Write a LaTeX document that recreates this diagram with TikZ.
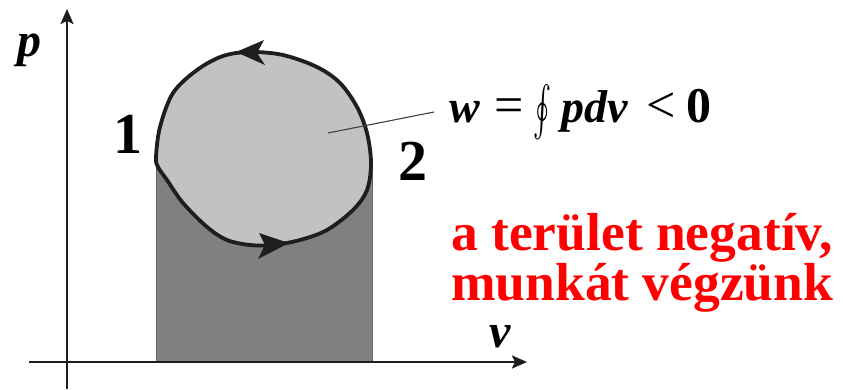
\documentclass[tikz,border=0pt]{standalone}
\usepackage{graphicx}
\usepackage{fontspec}
\setmainfont{Liberation Serif}
\usetikzlibrary{arrows.meta}
\definecolor{lightfill}{RGB}{194,194,194}
\definecolor{darkfill}{RGB}{128,128,128}
\definecolor{redtext}{RGB}{255,0,0}
\definecolor{inkline}{RGB}{30,30,30}
\begin{document}
\begin{tikzpicture}[x=1pt,y=-1pt,
  axisline/.style={line width=2.3pt,draw=inkline,-{Stealth[length=15pt,width=13pt,inset=3pt]}},
  cycleline/.style={line width=3.8pt,draw=inkline,fill=lightfill},
  arrowhd/.style={fill=inkline},
  lbl/.style={inner sep=0pt,anchor=base west},
  fml/.style={lbl,font=\fontsize{46}{46}\selectfont},
  fmlop/.style={lbl,font=\fontsize{52}{52}\selectfont},
  leader/.style={line width=1.1pt,draw=black!75}]
\useasboundingbox (0,0) rectangle (843,389);
% axes
\coordinate (ybot) at (67,389);
\coordinate (ytop) at (67,9);
\coordinate (xleft) at (29,362);
\coordinate (xright) at (527,362);
% dark area under the cycle
\fill[darkfill,draw=black!60,line width=0.8pt] (156,163) rectangle (372,362);
\draw[axisline] (ybot) -- (ytop);
\draw[axisline] (xleft) -- (xright);
% cycle
\draw[cycleline] plot[smooth cycle,tension=0.55] coordinates {
 (156,157) (160,127) (173,93) (197,70) (223,56) (250,52) (283,55) (317,67)
 (340,83) (357,107) (367,133) (371,163) (367,190) (353,210) (327,230)
 (300,240) (273,245) (250,245) (227,240) (207,227) (183,203) (167,180) (158,167)};
% direction arrowheads
\fill[arrowhd] (236,52) -- (264,40) -- (257,53) -- (265,65) -- cycle;
\fill[arrowhd] (289,243) -- (259,233) -- (265,245) -- (258,259) -- cycle;
% leader line and formula
\coordinate (lin) at (328,133);
\coordinate (lout) at (434,112);
\draw[leader] (lin) -- (lout);
\node[fml] (fw) at (449,122) {\textbf{\textit{w}}};
\node[fmlop] (feq) at (494,122) {=};
\node[lbl] (foint) at (533,125) {\scalebox{2.7}[5.0]{$\oint$}};
\node[fml] (fpdv) at (561,122) {\textbf{\textit{pdv}}};
\node[fmlop] (flt) at (646,122) {<};
\node[lbl,font=\fontsize{50}{50}\selectfont] (fzero) at (686,122) {\textbf{0}};
% labels
\node[lbl,font=\fontsize{48}{48}\selectfont\bfseries\itshape] (plabel) at (17,56) {p};
\node[lbl,font=\fontsize{48}{48}\selectfont\bfseries\itshape] (vlabel) at (489,347) {v};
\node[lbl,font=\fontsize{58}{58}\selectfont\bfseries] (one) at (113,153) {1};
\node[lbl,font=\fontsize{58}{58}\selectfont\bfseries] (two) at (398,180) {2};
\node[lbl,font=\fontsize{53.5}{53.5}\selectfont\bfseries,text=redtext] (line1) at (451,250) {a terület negatív,};
\node[lbl,font=\fontsize{53.5}{53.5}\selectfont\bfseries,text=redtext] (line2) at (451,300) {munkát végzünk};
\end{tikzpicture}
\end{document}
